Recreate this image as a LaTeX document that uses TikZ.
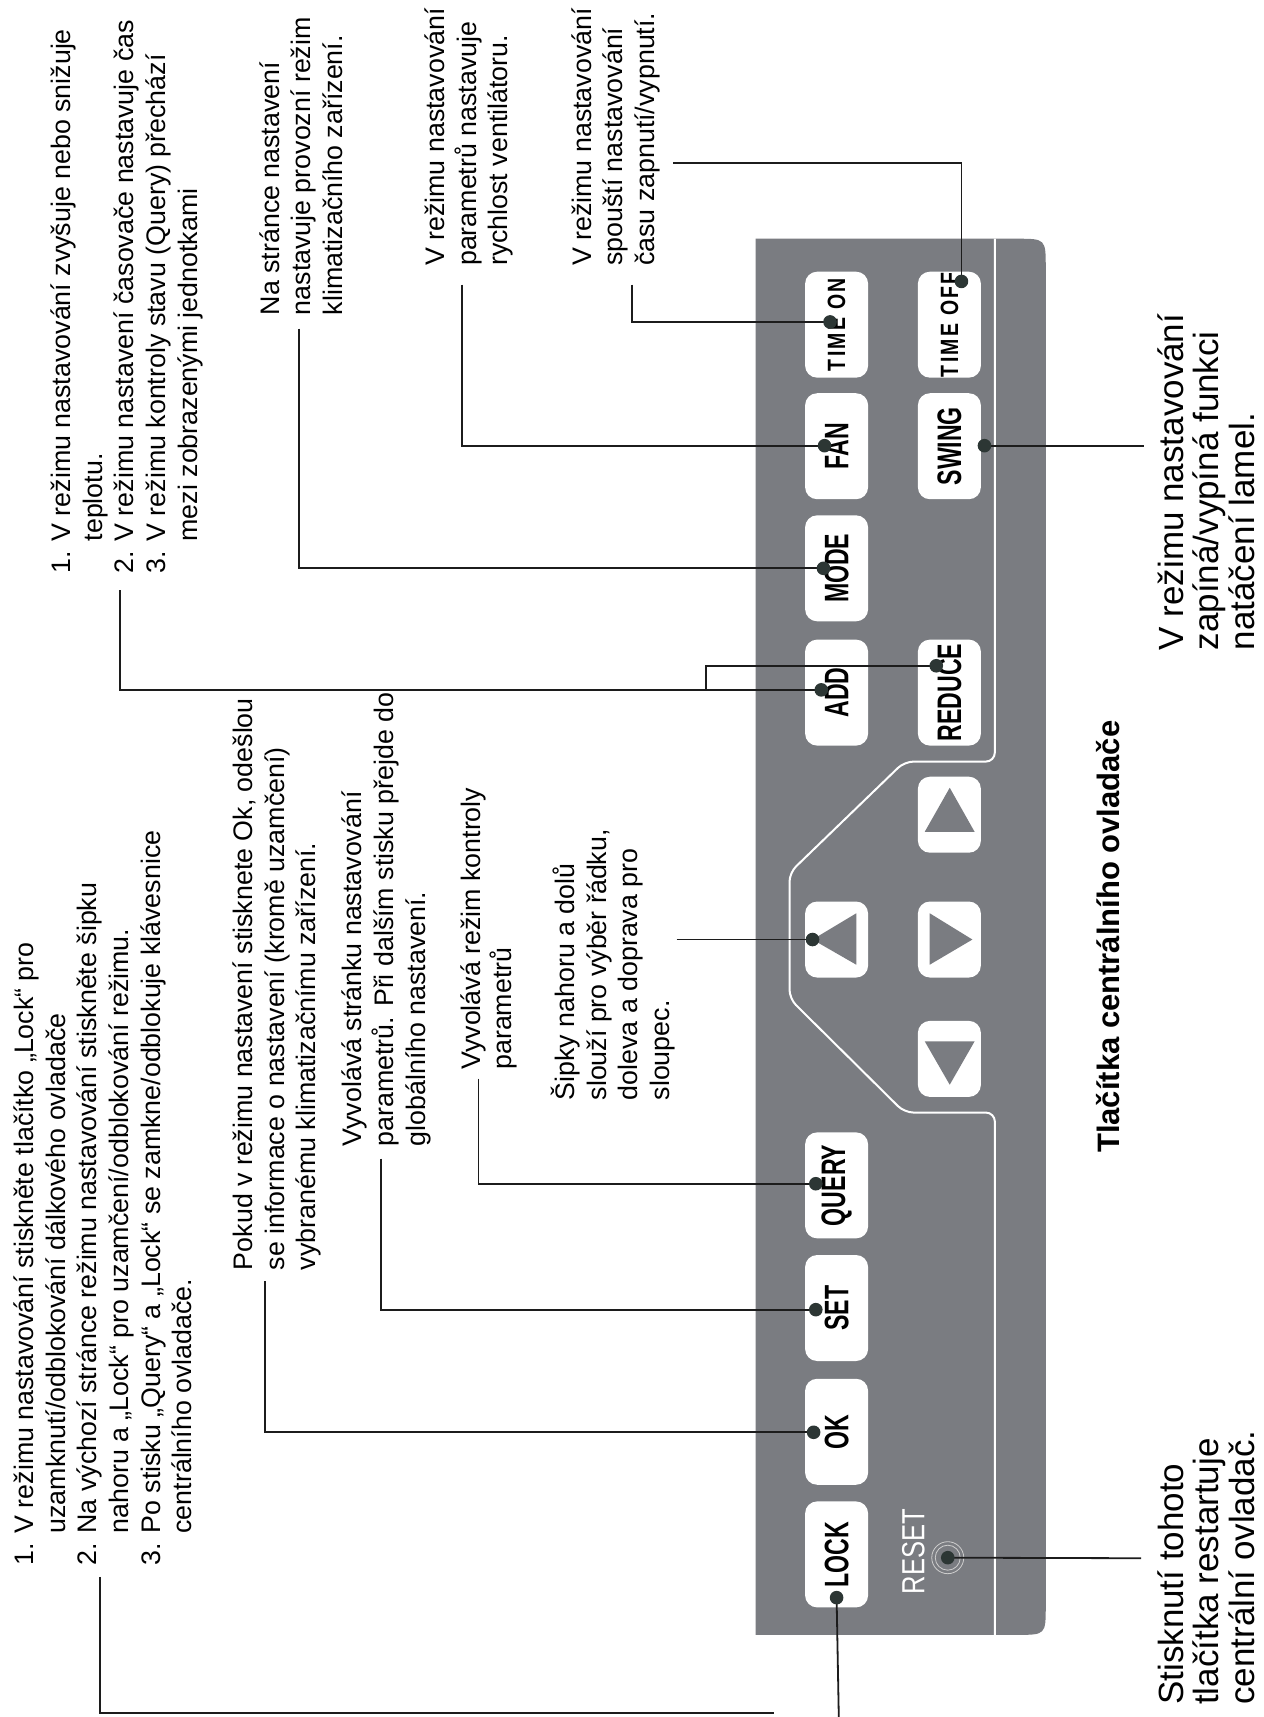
\documentclass[tikz,border=0pt]{standalone}
\usepackage{fontspec}
\setmainfont{Liberation Sans}
\definecolor{panelc}{RGB}{122,124,129}
\definecolor{dotc}{RGB}{44,54,52}
\definecolor{linec}{RGB}{28,28,28}
\definecolor{ringc}{RGB}{205,205,205}
\newcommand{\btxt}[2][0.68]{\rotatebox{90}{\scalebox{#1}[1]{#2}}}
\begin{document}
\lineskiplimit=-50pt
\begin{tikzpicture}[x=1.0953pt,y=-1.0953pt,
  txt/.style={rotate=90,anchor=north west,align=left,inner sep=0pt,text=black,font=\fontsize{26.8}{31.7}\selectfont},
  bigtxt/.style={txt,font=\fontsize{35}{35.5}\selectfont},
  btn/.style={fill=white,rounded corners=12pt,minimum width=63pt,minimum height=106pt,inner sep=0pt,font=\bfseries\fontsize{34}{34}\selectfont},
  abtn/.style={btn,minimum height=76pt},
  conn/.style={draw=linec,line width=1.8pt},
  dotf/.style={fill=dotc}]
\useasboundingbox (0,0) rectangle (1154,1568);
\fill[white] (0,0) rectangle (1154,1568);

% panel
\fill[panelc] (690,218) -- (928,218) .. controls (955,218) .. (955,245) -- (955,1466) .. controls (955,1493) .. (928,1493) -- (690,1493) -- cycle;
\draw[white,line width=2pt,rounded corners=9pt] (908.5,218) -- (908.5,695.5) -- (826,695.5) -- (721,797) -- (721,912) -- (826,1016) -- (908.5,1016) -- (908.5,1493);

% buttons
\node[btn] (tmon) at (764,296.5) {\btxt[0.78]{\fontsize{25}{25}\selectfont\addfontfeature{LetterSpace=12}TIME ON}};
\node[btn] (tmoff) at (867,296.5) {\btxt[0.78]{\fontsize{25}{25}\selectfont\addfontfeature{LetterSpace=12}TIME OFF}};
\node[btn] (fan) at (764,407.5) {\btxt{FAN}};
\node[btn] (swing) at (867,407.5) {\btxt{SWING}};
\node[btn] (mode) at (764,519) {\btxt{MODE}};
\node[btn] (add) at (764,632.5) {\btxt{ADD}};
\node[btn] (reduce) at (867,632.5) {\btxt{REDUCE}};
\node[abtn] (up) at (867,744) {};
\node[abtn] (left) at (764,858) {};
\node[abtn] (right) at (867,858) {};
\node[abtn] (down) at (867,967) {};
\node[btn] (query) at (764,1082.5) {\btxt{QUERY}};
\node[btn] (set) at (764,1194.5) {\btxt{SET}};
\node[btn] (ok) at (764,1307.5) {\btxt{OK}};
\node[btn] (lock) at (764,1419.5) {\btxt{LOCK}};
\node[rotate=90,text=white,inner sep=0pt,font=\fontsize{32}{32}\selectfont] (resetlbl) at (834,1417) {\scalebox{0.8}[1]{RESET}};

% arrow triangles
\fill[panelc] (up.center) ++(-22.5,15.6) -- ++(45.5,0) -- ++(-22.7,-40.2) -- cycle;
\fill[panelc] (left.center) ++(-22,0) -- ++(40,-24) -- ++(0,47) -- cycle;
\fill[panelc] (right.center) ++(-18,-24) -- ++(0,47) -- ++(39,-23) -- cycle;
\fill[panelc] (down.center) ++(-22.5,-16) -- ++(45.5,0) -- ++(-22.7,39.6) -- cycle;

% reset
\coordinate (dRESET) at (865.5,1422.5);
\draw[ringc,line width=0.8pt] (dRESET) circle[radius=16pt];
\draw[ringc,line width=0.8pt] (dRESET) circle[radius=12.5pt];

% texts
\node[txt] (tA) at (44,524) {\strut 1. V režimu nastavování zvyšuje nebo snižuje\\
\hphantom{1. }teplotu.\\
2. V režimu nastavení časovače nastavuje čas\\
3. V režimu kontroly stavu (Query) přechází\\
\hphantom{3. }mezi zobrazenými jednotkami};
\node[txt] (tB) at (10,1430) {\strut 1. V režimu nastavování stiskněte tlačítko „Lock“ pro\\
\hphantom{1. }uzamknutí/odblokování dálkového ovladače\\
2. Na výchozí stránce režimu nastavování stiskněte šipku\\
\hphantom{2. }nahoru a „Lock“ pro uzamčení/odblokování režimu.\\
3. Po stisku „Query“ a „Lock“ se zamkne/odblokuje klávesnice\\
\hphantom{3. }centrálního ovladače.};
\node[txt] (tC) at (210,1160) {\strut Pokud v režimu nastavení stisknete Ok, odešlou\\
se informace o nastavení (kromě uzamčení)\\
vybranému klimatizačnímu zařízení.};
\node[txt] (tD) at (310,1047) {\strut Vyvolává stránku nastavování\\
parametrů. Při dalším stisku přejde do\\
globálního nastavení.};
\node[txt] (tE) at (418,977) {\strut Vyvolává režim kontroly\\
parametrů};
\node[txt] (tF) at (503,1005) {\strut Šipky nahoru a dolů\\
slouží pro výběr řádku,\\
doleva a doprava pro\\
sloupec.};
\node[txt] (tG) at (234.5,288) {\strut Na stránce nastavení\\
nastavuje provozní režim\\
klimatizačního zařízení.};
\node[txt] (tH) at (385.5,243) {\strut V režimu nastavování\\
parametrů nastavuje\\
rychlost ventilátoru.};
\node[txt] (tI) at (519.5,243) {\strut V režimu nastavování\\
spouští nastavování\\
času zapnutí/vypnutí.};
\node[rotate=90,anchor=west,inner sep=0pt,font=\bfseries\fontsize{31}{31}\selectfont] (title) at (1012,1053) {Tlačítka centrálního ovladače};
\node[bigtxt] (tJ) at (1057,594) {\strut V režimu nastavování\\
zapíná/vypíná funkci\\
natáčení lamel.};
\node[bigtxt] (tK) at (1057,1557) {\strut Stisknutí tohoto\\
tlačítka restartuje\\
centrální ovladač.};

% connector coordinates
\coordinate (sTOFF) at (615,149);
\coordinate (dTOFF) at (878,257);
\coordinate (sTON) at (577,260);
\coordinate (dTON) at (758,294);
\coordinate (sFAN) at (422,260);
\coordinate (dFAN) at (753,407);
\coordinate (sMODE) at (273,300);
\coordinate (dMODE) at (752,519);
\coordinate (sADD) at (109.5,539);
\coordinate (dADD) at (750,630);
\coordinate (jADD) at (645,630);
\coordinate (dRED) at (855,608);
\coordinate (sLEFT) at (618,858);
\coordinate (dLEFT) at (742,858);
\coordinate (sQUERY) at (437,985);
\coordinate (dQUERY) at (745,1081);
\coordinate (sSET) at (348,1058);
\coordinate (dSET) at (745,1196);
\coordinate (sOK) at (242,1170);
\coordinate (dOK) at (743,1308);
\coordinate (sLOCKT) at (91,1440);
\coordinate (eLOCKT) at (707,1564);
\coordinate (dLOCK) at (764,1459);
\coordinate (eLOCK) at (766,1568);
\coordinate (dSWING) at (899,407);
\coordinate (eSWING) at (1045,407);
\coordinate (eRESET) at (1042,1423);

% connectors
\draw[conn] (sTOFF) -| (dTOFF);
\draw[conn] (sTON) |- (dTON);
\draw[conn] (sFAN) |- (dFAN);
\draw[conn] (sMODE) |- (dMODE);
\draw[conn] (sADD) |- (dADD);
\draw[conn] (jADD) |- (dRED);
\draw[conn] (sLEFT) -- (dLEFT);
\draw[conn] (sQUERY) |- (dQUERY);
\draw[conn] (sSET) |- (dSET);
\draw[conn] (sOK) |- (dOK);
\draw[conn] (sLOCKT) |- (eLOCKT);
\draw[conn] (dLOCK) -- (eLOCK);
\draw[conn] (dSWING) -- (eSWING);
\draw[conn] (dRESET) -- (eRESET);

% dots
\foreach \d in {dTOFF,dTON,dFAN,dMODE,dADD,dRED,dLEFT,dQUERY,dSET,dOK,dLOCK,dSWING,dRESET}
  \fill[dotf] (\d) circle[radius=6.8pt];
\end{tikzpicture}
\end{document}
